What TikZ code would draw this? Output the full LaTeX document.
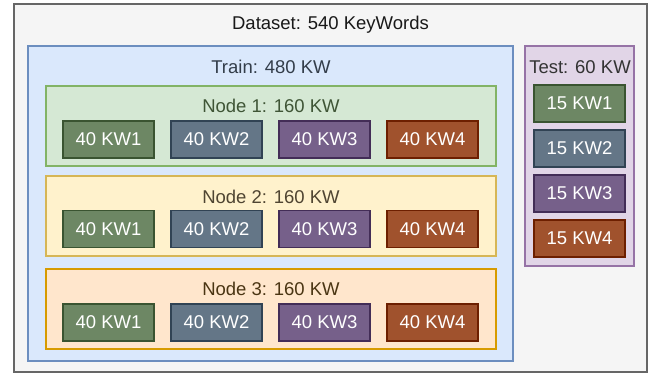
\documentclass[tikz,border=0pt]{standalone}
\usepackage{fontspec}
\setmainfont{Liberation Sans}
\usepackage{tikz}
\usetikzlibrary{positioning}

\definecolor{dsfill}{HTML}{F5F5F5}
\definecolor{dsline}{HTML}{666666}
\definecolor{trfill}{HTML}{DAE8FC}
\definecolor{trline}{HTML}{6C8EBF}
\definecolor{trtext}{HTML}{333D4A}
\definecolor{tsfill}{HTML}{E1D5E7}
\definecolor{tsline}{HTML}{9673A6}
\definecolor{nafill}{HTML}{D5E8D4}
\definecolor{naline}{HTML}{82B366}
\definecolor{natext}{HTML}{3F5536}
\definecolor{nbfill}{HTML}{FFF2CC}
\definecolor{nbline}{HTML}{D6B656}
\definecolor{nbtext}{HTML}{4F4532}
\definecolor{ncfill}{HTML}{FFE6CC}
\definecolor{ncline}{HTML}{D79B00}
\definecolor{nctext}{HTML}{4A3513}
\definecolor{kwafill}{HTML}{6D8764}
\definecolor{kwaline}{HTML}{3A5431}
\definecolor{kwbfill}{HTML}{647687}
\definecolor{kwbline}{HTML}{314354}
\definecolor{kwcfill}{HTML}{76608A}
\definecolor{kwcline}{HTML}{432D57}
\definecolor{kwdfill}{HTML}{A0522D}
\definecolor{kwdline}{HTML}{6D1F00}

\tikzset{
  box/.style={draw, line width=1.2pt, inner sep=0pt},
  kwbox/.style={box, minimum width=91, minimum height=37, text=white},
  kwa/.style={kwbox, fill=kwafill, draw=kwaline},
  kwb/.style={kwbox, fill=kwbfill, draw=kwbline},
  kwc/.style={kwbox, fill=kwcfill, draw=kwcline},
  kwd/.style={kwbox, fill=kwdfill, draw=kwdline},
  nodebox/.style={box, minimum width=450, minimum height=80},
  caption/.style={inner sep=0pt}
}

\begin{document}
\begin{tikzpicture}[x=1pt, y=-1pt, font=\fontsize{18.5}{22}\selectfont]
			%%%%% START %%%%%
			\useasboundingbox (0, 0) rectangle (655, 374);

			\node[box, fill=dsfill, draw=dsline, line width=1.6pt, minimum width=633, minimum height=368] (dataset) at (330.5, 188) {};
			\node[caption, text=black!90] (dataset-title) at (330.5, 25) {Dataset: 540 KeyWords};

			% training part
			\node[box, fill=trfill, draw=trline, minimum width=485, minimum height=315] (train) at (270.5, 203.5) {};
			\node[caption, text=trtext] (train-title) at (271, 67) {Train: 480 KW};

			\node[nodebox, fill=nafill, draw=naline] (node1) at (271, 126) {};
			\node[caption, text=natext] (node1-title) at (271, 106) {Node 1: 160 KW};
			\node[kwa] (n1-kw1) at (108.5, 139.5) {40 KW1};
			\node[kwb] (n1-kw2) at (216.5, 139.5) {40 KW2};
			\node[kwc] (n1-kw3) at (324.5, 139.5) {40 KW3};
			\node[kwd] (n1-kw4) at (432.5, 139.5) {40 KW4};

			\node[nodebox, fill=nbfill, draw=nbline] (node2) at (271, 216) {};
			\node[caption, text=nbtext] (node2-title) at (271, 197) {Node 2: 160 KW};
			\node[kwa] (n2-kw1) at (108.5, 229) {40 KW1};
			\node[kwb] (n2-kw2) at (216.5, 229) {40 KW2};
			\node[kwc] (n2-kw3) at (324.5, 229) {40 KW3};
			\node[kwd] (n2-kw4) at (432.5, 229) {40 KW4};

			\node[nodebox, fill=ncfill, draw=ncline] (node3) at (271, 309) {};
			\node[caption, text=nctext] (node3-title) at (271, 289) {Node 3: 160 KW};
			\node[kwa] (n3-kw1) at (108.5, 322.5) {40 KW1};
			\node[kwb] (n3-kw2) at (216.5, 322.5) {40 KW2};
			\node[kwc] (n3-kw3) at (324.5, 322.5) {40 KW3};
			\node[kwd] (n3-kw4) at (432.5, 322.5) {40 KW4};

			% test part
			\node[box, fill=tsfill, draw=tsline, minimum width=109, minimum height=220] (test) at (579.5, 156) {};
			\node[caption, text=black!80] (test-title) at (580, 67) {Test: 60 KW};
			\node[kwa] (t-kw1) at (579.5, 103.5) {15 KW1};
			\node[kwb] (t-kw2) at (579.5, 148.5) {15 KW2};
			\node[kwc] (t-kw3) at (579.5, 193.5) {15 KW3};
			\node[kwd] (t-kw4) at (579.5, 238.5) {15 KW4};
			%%%%% END %%%%%
		\end{tikzpicture}
\end{document}
